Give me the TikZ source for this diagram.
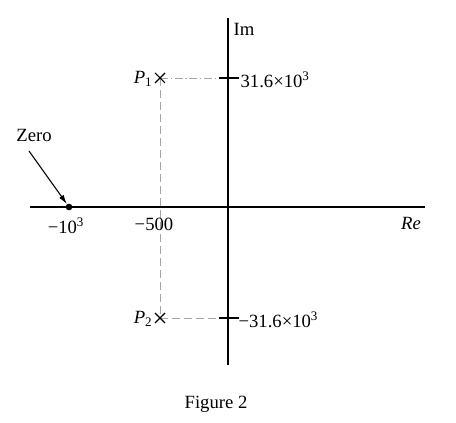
\documentclass[tikz,border=0pt]{standalone}
\usepackage{fontspec}
\setmainfont{Liberation Serif}
\usetikzlibrary{arrows.meta,positioning}

\begin{document}
\begin{tikzpicture}[x=0.75pt,y=-0.75pt,
  axis/.style={line width=1.1pt},
  guide/.style={gray!70,line width=0.6pt,dash pattern=on 6pt off 3pt},
  guidedot/.style={gray!70,line width=0.6pt,dash pattern=on 6pt off 2pt on 1pt off 2pt},
  lbl/.style={font=\fontsize{14}{16}\selectfont,inner sep=1pt},
  arr/.style={-{Latex[length=7pt,width=4pt]},line width=0.8pt}
]
  \useasboundingbox (0,0) rectangle (456,423);

  % axes
  \coordinate (xl) at (30,207);
  \coordinate (xr) at (425,207);
  \coordinate (yt) at (228,18);
  \coordinate (yb) at (228,365);
  \draw[axis] (xl) -- (xr);
  \draw[axis] (yt) -- (yb);
  \node[lbl,anchor=south west] (im) at (232,37) {Im};
  \node[lbl,anchor=north] (re) at (411,216) {\textit{Re}};

  % poles
  \coordinate (p1) at (160,78);
  \coordinate (p2) at (160,318);
  \coordinate (t1) at (228,78);
  \coordinate (t2) at (228,318);
  \draw[guide] (p1) -- (p2);
  \draw[guidedot] (p1) -- (t1);
  \draw[guide] (p2) -- (t2);
  \foreach \p in {p1,p2}
    \draw[line width=0.8pt] ([shift={(-5,-5)}]\p) -- ([shift={(5,5)}]\p)
      ([shift={(-5,5)}]\p) -- ([shift={(5,-5)}]\p);
  \foreach \t in {t1,t2}
    \draw[axis] ([xshift=-7]\t) -- ([xshift=8]\t);
  \node[lbl,anchor=east] (p1lbl) at (154,79) {\textit{P}\textsubscript{1}};
  \node[lbl,anchor=east] (p2lbl) at (154,319) {\textit{P}\textsubscript{2}};
  \node[lbl,anchor=west] (t1lbl) at (239,80) {31.6×10\textsuperscript{3}};
  \node[lbl,anchor=west] (t2lbl) at (237,320) {−31.6×10\textsuperscript{3}};

  % zero
  \node[circle,fill,inner sep=0pt,minimum size=5pt] (zero) at (69,207) {};
  \node[lbl] (zlab) at (34,135) {Zero};
  \draw[arr] (29,151) -- (zero);
  \node[lbl,anchor=north] (m1k) at (66,216) {−10\textsuperscript{3}};
  \node[lbl,anchor=north] (m500) at (154,216) {−500};

  \node[lbl] (cap) at (216,404) {Figure 2};
\end{tikzpicture}
\end{document}
